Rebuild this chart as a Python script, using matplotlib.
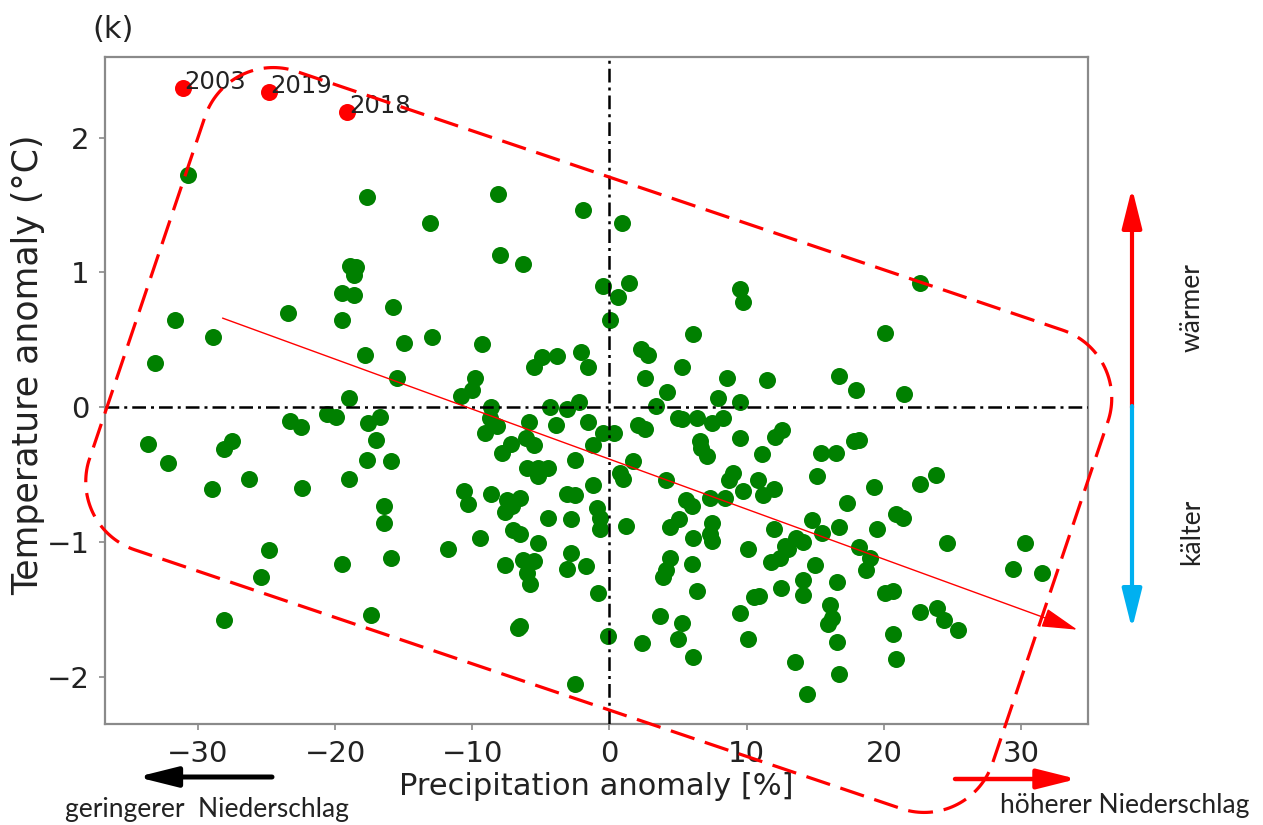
import numpy as np
import matplotlib
matplotlib.use("Agg")
import matplotlib.pyplot as plt
from matplotlib.patches import FancyArrowPatch

# ---------------- data ----------------
precip = [
    -30.7, -17.7, -13.1, -18.9, -18.5, -18.6, -19.5, -18.6, -15.8, -19.5,
    -31.7, -23.4, -28.9, -33.1, -17.8, -15.0, -12.9, -15.5, -19.0, -23.3,
    -22.5, -20.6, -19.9, -17.6, -16.7, -17.0, -33.6, -32.2, -28.1, -27.5,
    -17.7, -15.9, -29.0, -26.3, -22.4, -19.0, -16.4, -16.4, -24.8, -25.4,
    -19.5, -15.9, -28.1, -17.4, -8.1, -1.9, -8.0, -6.3, -0.5, 0.05,
    -9.3, -5.5, -4.9, -3.85, -2.1, -1.6, -9.8, -10.0, -10.8, -8.6,
    -4.35, -3.1, -2.2, -9.1, -8.2, -8.7, -5.9, -3.9, -1.6, -0.5,
    -1.2, -7.2, -7.8, -6.1, -5.5, -2.5, -6.0, -5.2, -4.5, -5.2,
    -1.2, -10.6, -10.3, -8.6, -7.5, -6.5, -7.6, -7.1, -3.1, -2.5,
    -4.5, -2.8, -0.9, -0.7, -0.7, -9.4, -7.0, -6.5, -11.8, -5.2,
    -7.6, -6.3, -5.5, -6.0, -5.8, -2.8, -3.1, -1.7, -0.8, -6.7,
    -6.5, -0.1, -2.5, 0.3, 0.9, 1.4, 0.6, 9.5, 9.7, 6.1,
    2.3, 2.8, 2.6, 5.3, 8.6, 4.2, 7.9, 9.5, 3.4, 11.5,
    2.1, 2.6, 5.0, 5.3, 6.4, 7.5, 8.3, 9.5, 6.6, 6.7,
    7.1, 11.1, 12.1, 12.6, 1.7, 0.8, 1.0, 4.1, 9.0, 8.7,
    9.7, 10.8, 11.2, 12.0, 5.6, 6.0, 7.3, 8.4, 1.2, 4.4,
    5.1, 6.1, 7.5, 7.3, 7.5, 10.1, 4.4, 4.1, 3.9, 6.0,
    6.4, 10.5, 10.9, 9.5, 3.7, 5.3, 5.0, 2.4, 6.1, 10.1,
    12.0, 22.6, 20.1, 16.7, 18.0, 21.5, 15.4, 16.5, 17.8, 18.2,
    15.1, 19.3, 22.6, 23.8, 17.3, 20.9, 21.4, 14.8, 15.5, 16.7,
    19.5, 13.6, 14.1, 12.8, 13.0, 12.4, 11.8, 18.2, 19.0, 18.7,
    15.0, 24.6, 14.1, 16.6, 30.3, 29.4, 31.5, 12.5, 14.1, 16.1,
    16.2, 15.9, 20.1, 20.7, 22.6, 23.9, 24.4, 25.4, 16.6, 20.7,
    20.9, 13.5, 16.7, 14.4,
]
temp = [
    1.72, 1.56, 1.37, 1.05, 1.04, 0.98, 0.85, 0.83, 0.74, 0.65,
    0.65, 0.70, 0.52, 0.33, 0.39, 0.48, 0.52, 0.22, 0.07, -0.10,
    -0.15, -0.05, -0.07, -0.12, -0.07, -0.24, -0.27, -0.41, -0.31, -0.25,
    -0.39, -0.40, -0.61, -0.53, -0.60, -0.53, -0.73, -0.86, -1.06, -1.26,
    -1.16, -1.12, -1.58, -1.54, 1.58, 1.46, 1.13, 1.06, 0.90, 0.65,
    0.47, 0.30, 0.37, 0.38, 0.41, 0.30, 0.22, 0.13, 0.08, 0.00,
    0.00, -0.01, 0.04, -0.19, -0.14, -0.08, -0.11, -0.13, -0.11, -0.19,
    -0.28, -0.27, -0.34, -0.23, -0.28, -0.39, -0.45, -0.45, -0.45, -0.51,
    -0.58, -0.62, -0.72, -0.64, -0.69, -0.67, -0.78, -0.73, -0.64, -0.65,
    -0.82, -0.83, -0.75, -0.82, -0.90, -0.97, -0.91, -0.94, -1.05, -1.01,
    -1.17, -1.13, -1.14, -1.23, -1.31, -1.08, -1.20, -1.18, -1.38, -1.64,
    -1.62, -1.70, -2.05, -0.19, 1.37, 0.92, 0.82, 0.88, 0.78, 0.54,
    0.43, 0.39, 0.22, 0.30, 0.22, 0.11, 0.07, 0.04, 0.01, 0.20,
    -0.13, -0.16, -0.08, -0.09, -0.08, -0.12, -0.08, -0.23, -0.25, -0.30,
    -0.36, -0.35, -0.22, -0.17, -0.40, -0.49, -0.53, -0.54, -0.49, -0.54,
    -0.62, -0.54, -0.65, -0.61, -0.69, -0.73, -0.67, -0.67, -0.88, -0.89,
    -0.83, -0.97, -0.86, -0.94, -0.99, -1.05, -1.12, -1.21, -1.26, -1.16,
    -1.36, -1.41, -1.40, -1.53, -1.55, -1.60, -1.72, -1.75, -1.85, -1.72,
    -0.90, 0.92, 0.55, 0.23, 0.13, 0.10, -0.34, -0.34, -0.25, -0.24,
    -0.51, -0.59, -0.57, -0.50, -0.71, -0.79, -0.82, -0.84, -0.93, -0.89,
    -0.90, -0.97, -1.00, -1.03, -1.05, -1.12, -1.15, -1.04, -1.12, -1.21,
    -1.17, -1.01, -1.28, -1.30, -1.01, -1.20, -1.23, -1.34, -1.39, -1.47,
    -1.56, -1.61, -1.38, -1.36, -1.52, -1.49, -1.58, -1.65, -1.74, -1.68,
    -1.87, -1.89, -1.98, -2.13,
]
hot_years = ["2003", "2019", "2018"]
hot_precip = [-31.1, -24.8, -19.1]
hot_temp = [2.37, 2.34, 2.19]

# trend arrow (as drawn in the figure): temp = intercept + slope * precip
trend_slope = -0.0371
trend_intercept = -0.385
trend_range = [-28.2, 34.1]

xticks = [-30, -20, -10, 0, 10, 20, 30]
yticks = [-2, -1, 0, 1, 2]

# ---------------- layout ----------------
W, H = 1263, 825
AX_L, AX_R, AX_T, AX_B = 105.0, 1087.7, 57.3, 724.3
XLIM = (-36.77, 34.86)
YLIM = (-2.352, 2.596)

fig = plt.figure(figsize=(W / 100, H / 100), dpi=100)
fig.patch.set_facecolor("white")
ax = fig.add_axes([AX_L / W, 1 - AX_B / H, (AX_R - AX_L) / W, (AX_B - AX_T) / H])
ax.set_xlim(*XLIM)
ax.set_ylim(*YLIM)

sx = (AX_R - AX_L) / (XLIM[1] - XLIM[0])   # px per data unit (x)
sy = (AX_B - AX_T) / (YLIM[1] - YLIM[0])   # px per data unit (y)

spine_col = "#8a8a8a"
for s in ax.spines.values():
    s.set_color(spine_col)
    s.set_linewidth(1.6)

ax.set_xticks(xticks)
ax.set_yticks(yticks)
ax.tick_params(axis="both", colors=spine_col, labelcolor="#222222",
               labelsize=21, length=4, width=1.2, pad=7)

# scatter
ax.scatter(precip, temp, s=150, color="#008000", linewidths=0, zorder=3)
ax.scatter(hot_precip, hot_temp, s=150, color="red", linewidths=0, zorder=3)
for yr, px, ty in zip(hot_years, hot_precip, hot_temp):
    ax.annotate(yr, (px, ty), xytext=(1.0, -1), textcoords="offset points",
                ha="left", va="baseline", fontsize=17.5, color="#222222", zorder=6)

# zero lines
dd = (0, (5.5, 2.0, 1.2, 2.0))
ax.axvline(0, color="black", lw=1.8, linestyle=dd, zorder=4)
ax.axhline(0, color="black", lw=1.8, linestyle=dd, zorder=4)

# trend arrow
tx = np.array(trend_range)
ty = trend_intercept + trend_slope * tx
ax.annotate("", xy=(tx[1], ty[1]), xytext=(tx[0], ty[0]),
            arrowprops=dict(arrowstyle="-|>,head_length=1.5,head_width=0.4",
                            color="red", lw=1.0, shrinkA=0, shrinkB=0,
                            mutation_scale=15), zorder=5)

# rotated rounded dashed box (built in pixel space, mapped to data units)
def rounded_rect(w, h, r, n=40):
    parts = []
    corners = [(w / 2 - r, h / 2 - r, 0), (-w / 2 + r, h / 2 - r, 90),
               (-w / 2 + r, -h / 2 + r, 180), (w / 2 - r, -h / 2 + r, 270)]
    for cx, cy, a0 in corners:
        t = np.radians(np.linspace(a0, a0 + 90, n))
        parts.append(np.column_stack([cx + r * np.cos(t), cy + r * np.sin(t)]))
    parts.append(parts[0][:1])
    return np.vstack(parts)

box_w, box_h, box_r, box_ang = 953.0, 505.0, 72.0, -18.66
box_cx_px, box_cy_px = 598.75, 440.0
pts = rounded_rect(box_w, box_h, box_r)
a = np.radians(box_ang)
rot = np.array([[np.cos(a), -np.sin(a)], [np.sin(a), np.cos(a)]])
pts = pts @ rot.T
cx_d = XLIM[0] + (box_cx_px - AX_L) / sx
cy_d = YLIM[1] - (box_cy_px - AX_T) / sy
ax.plot(cx_d + pts[:, 0] / sx, cy_d + pts[:, 1] / sy, color="red", lw=2.3,
        dashes=(7.8, 3.4), clip_on=False, zorder=6)

ax.set_xlabel("Precipitation anomaly [%]", fontsize=22, color="#222222")
ax.set_ylabel("Temperature anomaly (°C)", fontsize=25, color="#222222")
ax.xaxis.set_label_coords(0.5, -(772 - AX_B) / (AX_B - AX_T))
ax.yaxis.set_label_coords(-(AX_L - 45) / (AX_R - AX_L), (AX_B - 365) / (AX_B - AX_T))

# ---------------- figure annotations ----------------
def fp(x, y):
    return (x / W, 1 - y / H)

fig.text(*fp(113, 30), "(k)", fontsize=22, ha="center", va="center", color="#222222")

def farrow(p0, p1, color, lw, hl, hw, ms):
    fig.add_artist(FancyArrowPatch(fp(*p0), fp(*p1), transform=fig.transFigure,
                                   arrowstyle=f"-|>,head_length={hl},head_width={hw}",
                                   mutation_scale=ms, color=color, lw=lw,
                                   shrinkA=0, shrinkB=0))

farrow((1132, 408), (1132, 188), "red", 3.0, 1.2, 0.3, 20)
farrow((1132, 406), (1132, 629), "#00B0F0", 3.0, 1.2, 0.3, 20)
farrow((272, 777), (137, 777), "black", 3.6, 1.2, 0.3, 20)
farrow((955, 779), (1077, 779), "red", 3.2, 1.2, 0.3, 20)

gfont = ["Lato", "DejaVu Sans"]
fig.text(*fp(1192, 308), "wärmer", rotation=90, fontsize=19, family=gfont,
         ha="center", va="center", color="#222222")
fig.text(*fp(1192, 532), "kälter", rotation=90, fontsize=19, family=gfont,
         ha="center", va="center", color="#222222")
fig.text(*fp(207, 810), "geringerer  Niederschlag", fontsize=19, family=gfont,
         ha="center", va="center", color="#222222")
fig.text(*fp(1125, 805), "höherer Niederschlag", fontsize=19, family=gfont,
         ha="center", va="center", color="#222222")

fig.savefig("out.png", dpi=100, facecolor="white")
